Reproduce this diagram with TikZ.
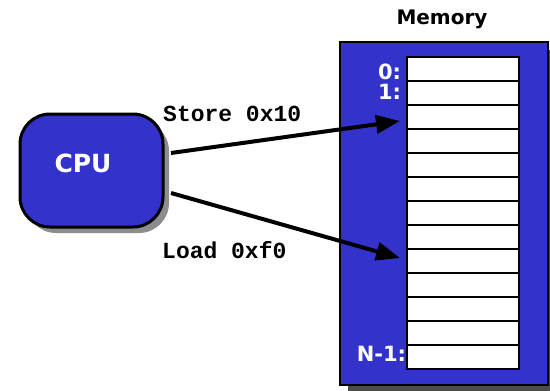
\documentclass[tikz,border=0pt]{standalone}
\usepackage{fontspec}
\setsansfont{DejaVu Sans}
\newfontfamily\codefont{Liberation Mono}
\usetikzlibrary{arrows.meta}
\definecolor{cpublue}{RGB}{51,51,204}
\tikzset{
  shadowed/.style={draw=black,fill=cpublue},
  cell/.style={draw=black,line width=1.5pt,fill=white,minimum width=112pt,minimum height=24pt,inner sep=0},
  addr/.style={text=white,font=\sffamily\bfseries\fontsize{21}{21}\selectfont,anchor=east,inner sep=0},
  op/.style={font=\codefont\bfseries\fontsize{23}{23}\selectfont,anchor=west,inner sep=0},
  bus/.style={line width=4pt,-{Triangle[length=24pt,width=18pt]}}
}
\begin{document}
\begin{tikzpicture}[x=1pt,y=-1pt]
    \useasboundingbox (0,0) rectangle (550,391);
    % shadows
    \fill[gray!90,rounded corners=30pt] (26,121) rectangle (169,233);
    \fill[black!70] (348,50) rectangle (556,393);
    % cpu
    \node[shadowed,line width=3pt,rounded corners=30pt,minimum width=143pt,minimum height=113pt] (cpu) at (91.5,170.5) {};
    \node[text=white,font=\sffamily\bfseries\fontsize{25}{25}\selectfont] (cpulabel) at (83,163) {CPU};
    % memory
    \node[shadowed,line width=1.5pt,minimum width=208pt,minimum height=343pt,inner sep=0] (mem) at (444,213.5) {};
    \node[font=\sffamily\bfseries\fontsize{20}{20}\selectfont] (title) at (442,19) {Memory};
    \foreach \i in {0,...,12}
        \node[cell] (c\i) at (463,69+24*\i) {};
    \node[addr] (a0) at ([xshift=-5pt,yshift=-3pt]c0.west) {0:};
    \node[addr] (a1) at ([xshift=-5pt,yshift=1pt]c1.west) {1:};
    \node[addr] (an) at ([xshift=0pt,yshift=3pt]c12.west) {N-1:};
    % connectors
    \coordinate (s0) at (171,153);
    \coordinate (l0) at (171,193);
    \coordinate (s1) at (400,121);
    \coordinate (l1) at (400,258);
    \draw[bus] (s0) -- (s1);
    \draw[bus] (l0) -- (l1);
    \node[op] (store) at (163,114) {Store 0x10};
    \node[op] (load) at (162,250) {Load 0xf0};
\end{tikzpicture}
\end{document}
